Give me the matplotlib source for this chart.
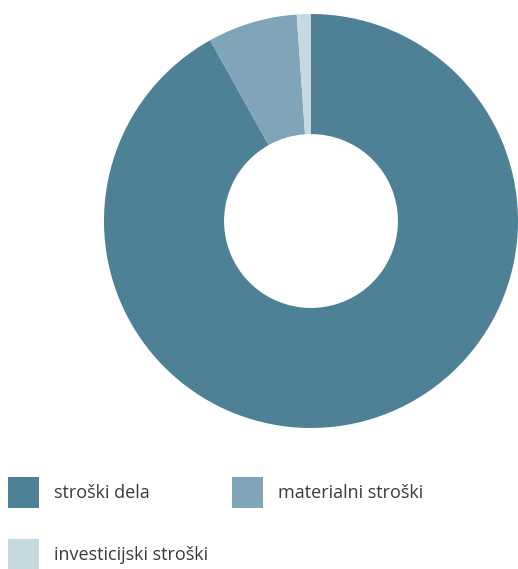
import matplotlib
matplotlib.use("Agg")
from matplotlib import pyplot as plt

labels = ["stroški dela", "materialni stroški", "investicijski stroški"]
values = [91.9, 7.0, 1.1]
colors = ["#4e8196", "#80a5b8", "#c6d9e0"]

plt.rcParams['font.family'] = ['Open Sans', 'DejaVu Sans']

fig = plt.figure(figsize=(5.18, 5.69), dpi=100)
ax = fig.add_axes([104/518, (569-428)/569, 414/518, 414/569])

wedges, _ = ax.pie(values, colors=colors, startangle=90, counterclock=False,
                   radius=1, wedgeprops=dict(width=0.58, linewidth=0))
ax.set_xlim(-1, 1)
ax.set_ylim(-1, 1)
ax.set_aspect("equal")
ax.axis("off")

# legend is filled column by column, so reorder to read row by row
order = [0, 2, 1]
leg = fig.legend([wedges[i] for i in order], [labels[i] for i in order],
                 loc="upper left", ncol=2,
                 bbox_to_anchor=(8/518, 1 - 477/569), frameon=False,
                 fontsize=13, handlelength=1.72, handleheight=2.27,
                 handletextpad=0.83, columnspacing=1.33, labelspacing=1.72,
                 borderaxespad=0, borderpad=0)
for t in leg.get_texts():
    t.set_color("#3a3a3a")

fig.savefig("out.png", dpi=100)
